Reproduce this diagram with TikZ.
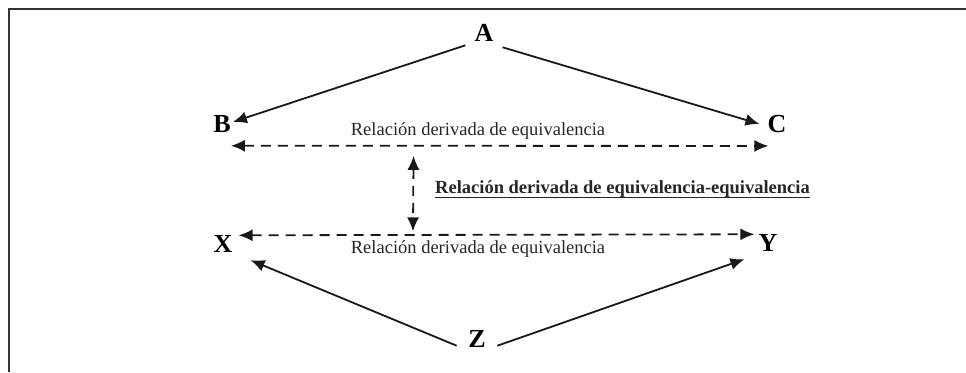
\documentclass[tikz,border=0pt]{standalone}
\usepackage{fontspec}
\setmainfont{Liberation Serif}
\usetikzlibrary{arrows.meta,calc}

\begin{document}
\begin{tikzpicture}[x=1pt, y=-1pt, >={Latex[length=14pt,width=12pt]}]
    \tikzset{letter/.style={font=\fontsize{26}{31}\selectfont\bfseries, inner sep=2pt},
      rel/.style={->, line width=1.8pt, black!90},
      eqv/.style={<->, line width=1.8pt, black!90, dash pattern=on 10pt off 7pt},
      lbl/.style={font=\fontsize{18.5}{22}\selectfont, anchor=base, inner sep=0pt, text=black!85}
    }

    \useasboundingbox (0,0) rectangle (966,372);
    \draw[line width=2pt, black!80] (8.5,372) -- (8.5,8.5) -- (966,8.5);

    \node[letter] (A) at (484,33) {A};
    \node[letter] (B) at (222,124) {B};
    \node[letter] (C) at (777,124) {C};
    \node[letter] (X) at (223,244) {X};
    \node[letter] (Y) at (768,243) {Y};
    \node[letter] (Z) at (477,339) {Z};

    \node[lbl] (relBC) at (478,135) {Relación derivada de equivalencia};
    \node[lbl] (relXY) at (478,253) {Relación derivada de equivalencia};
    \node[lbl, anchor=base west, font=\fontsize{18.5}{22}\selectfont\bfseries] (relRel) at (435,193.5)
      {Relación derivada de equivalencia-equivalencia};
    \draw[line width=1.2pt, black!85] ([yshift=-4pt]relRel.base west) -- ([yshift=-4pt]relRel.base east);

    \draw[rel] ([shift={(-7pt,-1.5pt)}]A.south west) -- ([yshift=2pt]B.east);
    \draw[rel] ([shift={(7pt,-3.5pt)}]A.south east) -- ([xshift=-6pt]C.west);

    \draw[eqv] ([shift={(-2pt,-11pt)}]B.south east) -- ([shift={(3pt,-11pt)}]C.south west)
      coordinate[pos=0.34] (up);
    \draw[eqv] ([shift={(4pt,-2pt)}]X.north east) -- ([shift={(-2pt,-2pt)}]Y.north west)
      coordinate[pos=0.338] (down);
    \draw[eqv, shorten <=10pt, shorten >=3.5pt] (up) -- (down);

    \draw[rel] ([shift={(-9.5pt,4pt)}]Z.south west) -- ([shift={(16pt,-5.5pt)}]X.south east);
    \draw[rel] ([shift={(9.5pt,4pt)}]Z.south east) -- ([shift={(-12pt,-5.5pt)}]Y.south west);
\end{tikzpicture}
\end{document}
